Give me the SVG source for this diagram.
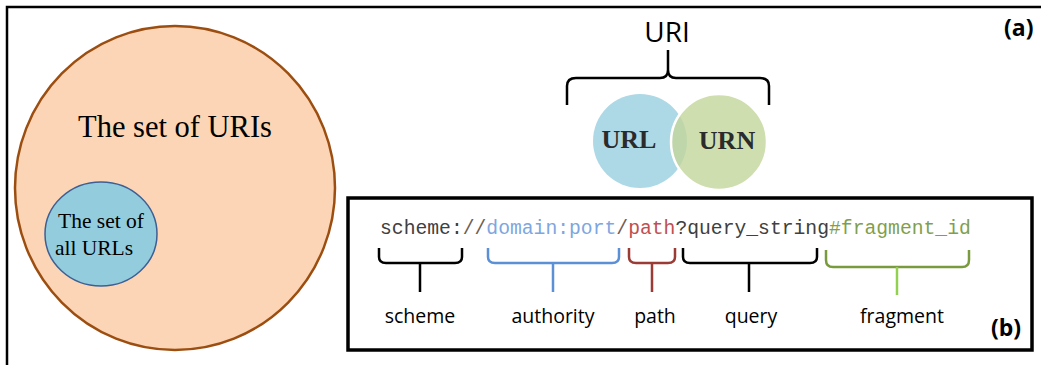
<svg xmlns="http://www.w3.org/2000/svg" width="1041" height="365" viewBox="0 0 1041 365">
<style>
.frame{fill:none;stroke:#000;stroke-width:2.5}
.brace{fill:none;stroke-width:2.5;stroke-linecap:butt;stroke-linejoin:round}
.mono{font-family:"Liberation Mono","DejaVu Sans Mono",monospace;font-size:19.7px}
.lbl{font-family:"Open Sans","Liberation Sans",sans-serif;font-size:19.5px;fill:#000;text-anchor:middle}
.serif{font-family:"Liberation Serif","DejaVu Serif",serif;text-anchor:middle}
.tag{font-family:"Open Sans","Liberation Sans",sans-serif;font-weight:bold;font-size:23px;fill:#000}
</style>
<rect width="1041" height="365" fill="#fff"/>
<path class="frame" d="M7,365 V7 H1041"/>

<g id="uri-set">
<ellipse cx="175" cy="188" rx="160" ry="162" fill="#FBD5B5" stroke="#9C4E10" stroke-width="2.5"/>
<text class="serif" x="175" y="137" font-size="30.5">The set of URIs</text>
</g>
<g id="url-set">
<ellipse cx="101" cy="234" rx="56" ry="52" fill="#93CDDD" stroke="#3D5F95" stroke-width="1.5"/>
<text class="serif" x="101" y="228" font-size="21.5">The set of</text>
<text class="serif" x="94" y="255" font-size="21.5">all URLs</text>
</g>

<g id="uri-label">
<text x="667" y="42" font-family="'Open Sans',Lato,sans-serif" font-size="28" text-anchor="middle" fill="#000">URI</text>
<path class="brace" stroke="#000" stroke-width="3" d="M567,105 V86 Q567,78 576,78 H660 Q668,78 668,70 V50 M668,70 Q668,78 676,78 H760 Q769,78 769,86 V105"/>
</g>
<g id="url">
<circle cx="640" cy="141" r="47" fill="#ADD8E6"/>
<text class="serif" x="629" y="148" font-size="26" font-weight="bold" fill="#2b2b2b">URL</text>
</g>
<g id="urn">
<circle cx="719" cy="142" r="48" fill="#C3D69B" fill-opacity="0.8" stroke="#fff" stroke-width="2.5"/>
<text class="serif" x="727" y="149" font-size="26" font-weight="bold" fill="#2b2b2b">URN</text>
</g>
<text class="tag" x="1004" y="36">(a)</text>

<g id="uri-syntax">
<rect x="348" y="198" width="684" height="152" fill="#fff" stroke="#000" stroke-width="3.5"/>
<text class="mono" x="380" y="234"><tspan fill="#404040">scheme:</tspan><tspan fill="#6E5E55">//</tspan><tspan fill="#7EA6E0">domain:port</tspan><tspan fill="#6E5E55">/</tspan><tspan fill="#C0504D">path</tspan><tspan fill="#404040">?query_string</tspan><tspan fill="#7F9F4F">#fragment_id</tspan></text>
<text class="tag" x="991" y="336">(b)</text>
</g>

<g id="connectors">
<path class="brace" stroke="#000" d="M379,248 V257 Q379,263 386,263 H455 Q462,263 462,257 V248 M420,263 V292"/>
<path class="brace" stroke="#5B8FD6" d="M488,248 V257 Q488,263 495,263 H612 Q619,263 619,257 V248 M553,263 V292"/>
<path class="brace" stroke="#9B3B36" d="M629,248 V257 Q629,263 636,263 H668 Q675,263 675,257 V248 M652,263 V292"/>
<path class="brace" stroke="#000" d="M683,248 V257 Q683,263 690,263 H810 Q817,263 817,257 V248 M749,263 V292"/>
<path class="brace" stroke="#7A9A3E" d="M826,250 V260 Q826,267 833,267 H962 Q969,267 969,260 V250"/>
<path class="brace" stroke="#92D050" d="M897,267 V295"/>
</g>

<g id="labels">
<text class="lbl" x="420" y="323">scheme</text>
<text class="lbl" x="553" y="323">authority</text>
<text class="lbl" x="655" y="323">path</text>
<text class="lbl" x="751" y="323">query</text>
<text class="lbl" x="902" y="323">fragment</text>
</g>
</svg>
